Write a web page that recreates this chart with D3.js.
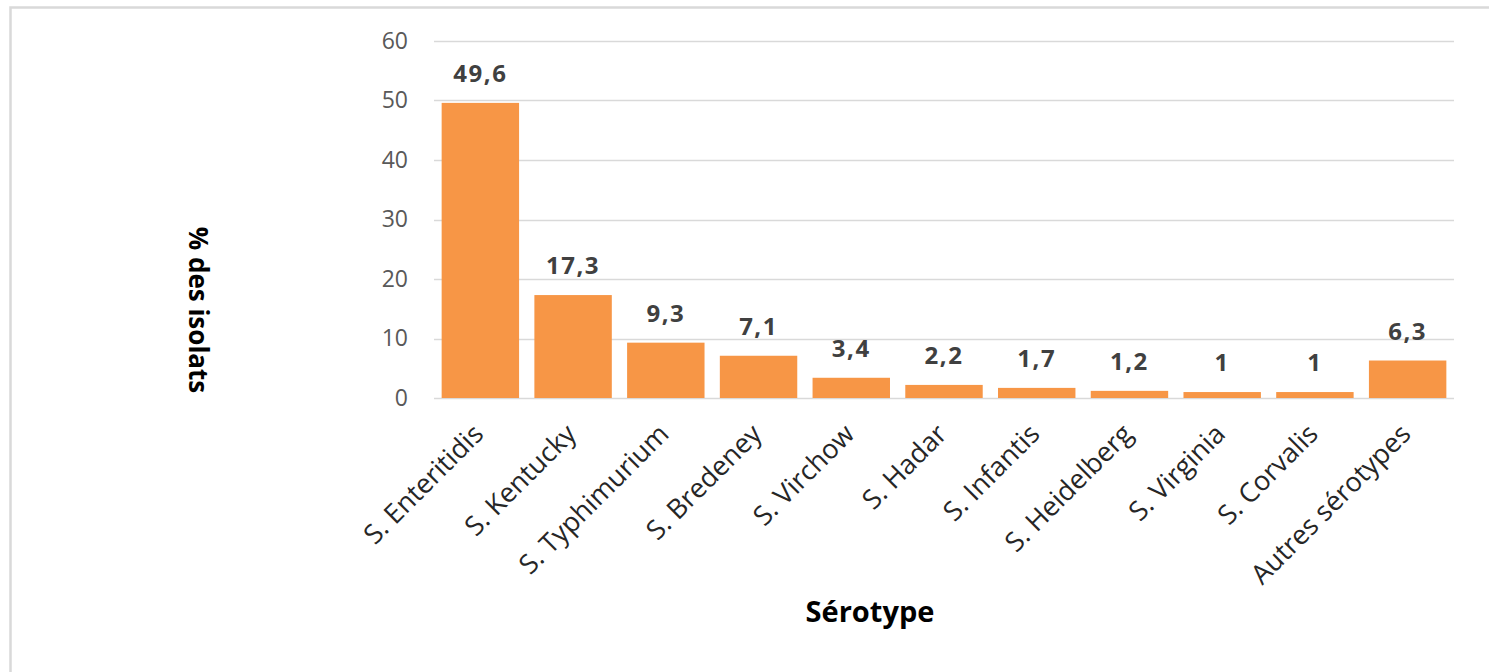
<!DOCTYPE html>
<html>
<head>
<meta charset="utf-8">
<script src="https://cdn.jsdelivr.net/npm/d3@7"></script>
<style>
  html, body { margin: 0; padding: 0; background: #fff; }
  svg { display: block; font-family: "Open Sans", "Noto Sans", sans-serif; }
</style>
</head>
<body>
<svg id="chart" width="1489" height="672"></svg>
<script>
// Serotype distribution of Salmonella isolates (% of isolates)
const serotypes = [
  "S. Enteritidis", "S. Kentucky", "S. Typhimurium", "S. Bredeney", "S. Virchow",
  "S. Hadar", "S. Infantis", "S. Heidelberg", "S. Virginia", "S. Corvalis",
  "Autres sérotypes"
];
const percentages = [49.6, 17.3, 9.3, 7.1, 3.4, 2.2, 1.7, 1.2, 1, 1, 6.3];
const yTicks = [0, 10, 20, 30, 40, 50, 60];

const svg = d3.select("#chart");

// light frame around the chart area
svg.append("rect")
  .attr("x", 10.5).attr("y", 7.5)
  .attr("width", 1500).attr("height", 700)
  .attr("fill", "none")
  .attr("stroke", "#d9d9d9")
  .attr("stroke-width", 2.5);

const plot = { left: 434, right: 1454, top: 41, bottom: 398 };

const x = d3.scaleBand()
  .domain(serotypes)
  .range([plot.left, plot.right])
  .paddingInner(0.165)
  .paddingOuter(0.0825);

const y = d3.scaleLinear()
  .domain([0, 60])
  .range([plot.bottom, plot.top]);

// horizontal gridlines
svg.append("g")
  .selectAll("line")
  .data(yTicks)
  .join("line")
  .attr("x1", plot.left).attr("x2", plot.right)
  .attr("y1", d => Math.round(y(d)) + 0.5)
  .attr("y2", d => Math.round(y(d)) + 0.5)
  .attr("stroke", "#d9d9d9")
  .attr("stroke-width", 1.5);

// y axis tick labels
const yAxis = d3.axisLeft(y).tickValues(yTicks).tickSize(0).tickPadding(0);
const yg = svg.append("g")
  .attr("transform", `translate(${plot.left - 26},0)`)
  .call(yAxis);
yg.select(".domain").remove();
yg.selectAll("text")
  .attr("fill", "#595959")
  .attr("font-size", 23)
  .attr("font-family", "Open Sans, sans-serif");

// bars
svg.append("g")
  .selectAll("rect")
  .data(percentages)
  .join("rect")
  .attr("x", (d, i) => x(serotypes[i]))
  .attr("width", x.bandwidth())
  .attr("y", d => y(d))
  .attr("height", d => y(0) - y(d))
  .attr("fill", "#F79646");

// value labels above bars
const fmt = v => String(v).replace(".", ",");
svg.append("g")
  .selectAll("text")
  .data(percentages)
  .join("text")
  .attr("x", (d, i) => x(serotypes[i]) + x.bandwidth() / 2)
  .attr("y", d => y(d) - 21)
  .attr("text-anchor", "middle")
  .attr("font-size", 24)
  .attr("font-weight", "bold")
  .attr("letter-spacing", 1.5)
  .attr("fill", "#404040")
  .text(d => fmt(d));

// category labels, rotated
const xAxis = d3.axisBottom(x).tickSize(0).tickPadding(0);
const xg = svg.append("g")
  .attr("transform", `translate(0,${plot.bottom})`)
  .call(xAxis);
xg.select(".domain").remove();
xg.selectAll("text")
  .attr("font-size", 27)
  .attr("fill", "#262626")
  .attr("font-family", "Open Sans, sans-serif")
  .attr("text-anchor", "end")
  .attr("dy", "0.35em")
  .attr("transform", "translate(-2,31) rotate(-45)");

// axis titles
svg.append("text")
  .attr("transform", "translate(198,310) rotate(90)")
  .attr("text-anchor", "middle")
  .attr("dy", "0.35em")
  .attr("font-size", 26)
  .attr("font-weight", "bold")
  .attr("fill", "#000")
  .text("% des isolats");

svg.append("text")
  .attr("x", 870)
  .attr("y", 622)
  .attr("text-anchor", "middle")
  .attr("font-size", 29)
  .attr("font-weight", "bold")
  .attr("fill", "#000")
  .text("Sérotype");
</script>
</body>
</html>
